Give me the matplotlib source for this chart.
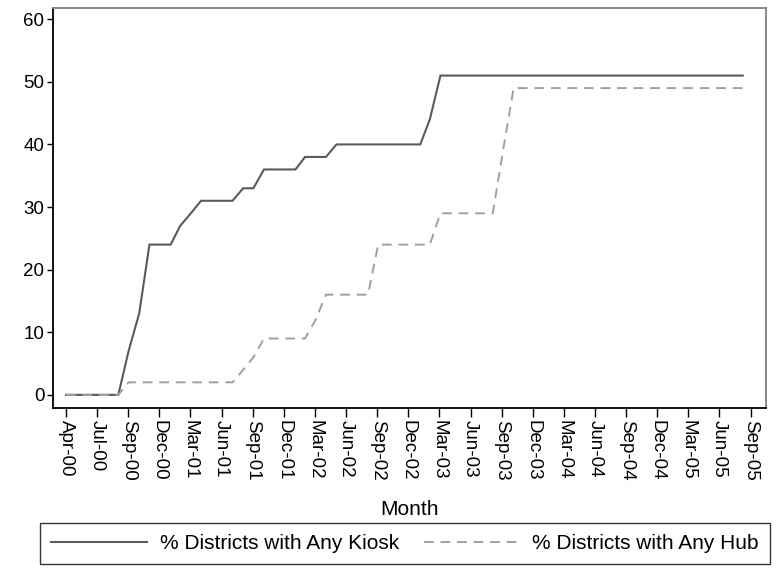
import matplotlib
matplotlib.use('Agg')
import matplotlib.pyplot as plt
import matplotlib.dates as mdates
import numpy as np
import pandas as pd

plt.rcParams['font.family'] = ['Liberation Sans', 'DejaVu Sans']

# monthly observations, Apr-2000 .. Sep-2005
months = pd.date_range('2000-04-01', '2005-09-01', freq='MS')

kiosk = [0, 0, 0, 0, 0, 0, 7, 13, 24,                      # 2000 Apr-Dec
         24, 24, 27, 29, 31, 31, 31, 31, 33, 33, 36, 36,  # 2001
         36, 36, 38, 38, 38, 40, 40, 40, 40, 40, 40, 40,  # 2002
         40, 40, 44, 51, 51, 51, 51, 51, 51, 51, 51, 51,  # 2003
         51, 51, 51, 51, 51, 51, 51, 51, 51, 51, 51, 51,  # 2004
         51, 51, 51, 51, 51, 51, 51, 51, 51]              # 2005 Jan-Sep

hub = [0, 0, 0, 0, 0, 0, 2, 2, 2,
       2, 2, 2, 2, 2, 2, 2, 2, 4, 6, 9, 9,
       9, 9, 9, 12, 16, 16, 16, 16, 16, 24, 24, 24,
       24, 24, 24, 29, 29, 29, 29, 29, 29, 39, 49, 49,
       49, 49, 49, 49, 49, 49, 49, 49, 49, 49, 49, 49,
       49, 49, 49, 49, 49, 49, 49, 49, 49]

y_ticks = [0, 10, 20, 30, 40, 50, 60]

# x ticks every 91 days starting Apr 1 2000 (gives Apr, Jul, Sep, Dec ...)
start = np.datetime64('2000-04-01')
tick_dates = pd.to_datetime(start + np.arange(23) * np.timedelta64(91, 'D'))

fig = plt.figure(figsize=(7.77, 5.68), dpi=100)
ax = fig.add_axes([0.0678, 0.2817, 0.918, 0.7043])

ax.plot(months, kiosk, color='#5a5a5a', lw=1.5, solid_joinstyle='miter',
        label='% Districts with Any Kiosk')
ax.plot(months, hub, color='#a0a0a0', lw=1.4, dashes=(5, 3.5),
        label='% Districts with Any Hub')

ax.set_xlim(pd.Timestamp(start - np.timedelta64(39, 'D')),
            pd.Timestamp(start + np.timedelta64(2047, 'D')))
ax.set_ylim(-2.1, 61.8)

ax.set_yticks(y_ticks)
ax.set_xticks(tick_dates)
ax.xaxis.set_major_formatter(mdates.DateFormatter('%b-%y'))
ax.tick_params(axis='x', labelrotation=-90, length=6.5, width=1, pad=2, labelsize=13.5)
ax.tick_params(axis='y', length=4, width=1, pad=2, labelsize=13.5)
for lab in ax.get_xticklabels():
    lab.set_va('top')
    lab.set_ha('center')

ax.set_xlabel('Month', fontsize=15, labelpad=14)

for side in ['left', 'bottom']:
    ax.spines[side].set_color('black')
    ax.spines[side].set_linewidth(1.3)
for side in ['top', 'right']:
    ax.spines[side].set_color('#808080')
    ax.spines[side].set_linewidth(1.3)

handles, labels = ax.get_legend_handles_labels()
h = 45 / 568
yc = 1 - 543.5 / 568
leg = fig.legend(handles, labels, ncol=2, mode='expand', loc='center',
                 bbox_to_anchor=(40 / 777, yc - h / 2, 730 / 777, h),
                 fontsize=15, handlelength=4.6, handletextpad=0.6,
                 borderpad=0.55, fancybox=False, borderaxespad=0, frameon=True)
leg.get_frame().set_edgecolor('black')
leg.get_frame().set_linewidth(1)

plt.savefig('out.png', dpi=100, facecolor='white')
